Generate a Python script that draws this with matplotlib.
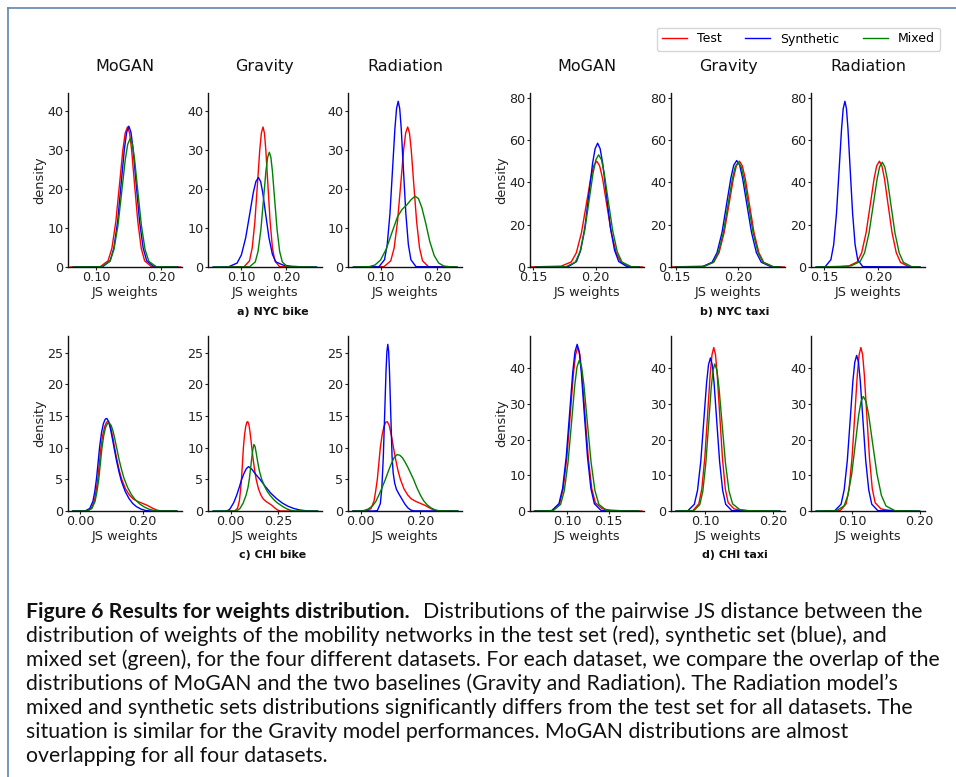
import matplotlib
matplotlib.use("Agg")
import matplotlib.pyplot as plt
from matplotlib.lines import Line2D

# NYC bike
nyc_bike_test = [(0.060, 0), (0.106, 0.08), (0.118, 1.58), (0.124, 4.87), (0.130, 11.69), (0.136, 21.83),
                 (0.1408, 30.07), (0.1444, 34.42), (0.148, 36.0), (0.1512, 34.42), (0.1543, 30.07),
                 (0.1585, 21.83), (0.1638, 11.69), (0.169, 4.87), (0.1743, 1.58), (0.1848, 0.08), (0.230, 0)]
nyc_bike_mogan_syn = [(0.065, 0), (0.1098, 0.08), (0.1213, 1.59), (0.127, 4.90), (0.1328, 11.75), (0.1385, 21.96),
                      (0.1431, 30.24), (0.1466, 34.61), (0.150, 36.2), (0.1533, 34.61), (0.1566, 30.24),
                      (0.161, 21.96), (0.1665, 11.75), (0.172, 4.90), (0.1775, 1.59), (0.1885, 0.08), (0.225, 0)]
nyc_bike_mogan_mix = [(0.064, 0), (0.1083, 0.07), (0.1208, 1.45), (0.127, 4.46), (0.1333, 10.72), (0.1395, 20.01),
                      (0.1445, 27.56), (0.1483, 31.55), (0.152, 33.0), (0.1555, 31.55), (0.1589, 27.56),
                      (0.1635, 20.01), (0.1693, 10.72), (0.175, 4.46), (0.1808, 1.45), (0.1923, 0.07), (0.224, 0)]
nyc_bike_gravity_syn = [(0.037, 0), (0.0715, 0.05), (0.0905, 1.01), (0.100, 3.11), (0.1095, 7.47), (0.119, 13.95),
                        (0.1266, 19.21), (0.1323, 21.99), (0.138, 23.0), (0.1427, 21.99), (0.1473, 19.21),
                        (0.1535, 13.95), (0.1613, 7.47), (0.169, 3.2), (0.1768, 1.3), (0.1923, 0.5),
                        (0.210, 0.2), (0.235, 0.03), (0.267, 0)]
nyc_bike_gravity_mix = [(0.040, 0), (0.1183, 0.06), (0.1308, 1.30), (0.137, 3.99), (0.1433, 9.58), (0.1495, 17.89),
                        (0.1545, 24.64), (0.1583, 28.20), (0.162, 29.5), (0.1655, 28.20), (0.1689, 24.64),
                        (0.1735, 17.89), (0.1793, 9.58), (0.185, 3.99), (0.1908, 1.30), (0.2023, 0.06), (0.265, 0)]
nyc_bike_radiation_syn = [(0.052, 0), (0.0973, 0.09), (0.107, 1.87), (0.1118, 5.76), (0.1167, 13.83),
                          (0.1215, 25.84), (0.1254, 35.58), (0.1283, 40.73), (0.1312, 42.6), (0.1339, 40.73),
                          (0.1366, 35.58), (0.1402, 25.84), (0.1447, 13.83), (0.1492, 5.76), (0.1537, 1.87),
                          (0.1627, 0.09), (0.235, 0)]
nyc_bike_radiation_mix = [(0.052, 0), (0.080, 0.1), (0.090, 0.5), (0.100, 1.8), (0.110, 4.6), (0.120, 8.8),
                          (0.130, 12.9), (0.138, 14.8), (0.146, 15.9), (0.154, 17.3), (0.161, 18.2), (0.167, 17.6),
                          (0.173, 15.3), (0.180, 11.2), (0.187, 6.6), (0.195, 2.9), (0.203, 1.0), (0.212, 0.25),
                          (0.225, 0.03), (0.235, 0)]

# NYC taxi
nyc_taxi_test = [(0.145, 0), (0.1723, 0.4), (0.1805, 2.4), (0.1846, 6.77), (0.1887, 16.24), (0.1928, 30.33),
                 (0.1961, 41.77), (0.1985, 47.80), (0.201, 50.0), (0.2033, 47.80), (0.2057, 41.77),
                 (0.2088, 30.33), (0.2127, 16.24), (0.2166, 6.77), (0.2205, 2.20), (0.2283, 0.11), (0.238, 0)]
nyc_taxi_mogan_syn = [(0.152, 0), (0.1779, 0.13), (0.1847, 2.57), (0.1881, 7.92), (0.1915, 18.99), (0.1949, 35.48),
                      (0.1976, 48.87), (0.1997, 55.93), (0.2017, 58.5), (0.2037, 55.93), (0.2058, 48.87),
                      (0.2085, 35.48), (0.2119, 18.99), (0.2153, 7.92), (0.2187, 2.57), (0.2255, 0.13), (0.235, 0)]
nyc_taxi_mogan_mix = [(0.152, 0), (0.1763, 0.12), (0.1838, 2.33), (0.1875, 7.17), (0.1913, 17.21), (0.195, 32.14),
                      (0.198, 44.27), (0.2003, 50.67), (0.2025, 53.0), (0.2048, 50.67), (0.207, 44.27),
                      (0.210, 32.14), (0.2138, 17.21), (0.2175, 7.17), (0.2213, 2.33), (0.2288, 0.12), (0.235, 0)]
nyc_taxi_gravity_syn = [(0.150, 0), (0.1712, 0.11), (0.179, 2.21), (0.183, 6.81), (0.187, 16.33), (0.1909, 30.51),
                        (0.1941, 42.02), (0.1964, 48.09), (0.1988, 50.3), (0.2012, 48.09), (0.2035, 42.02),
                        (0.2067, 30.51), (0.2107, 16.33), (0.2146, 6.81), (0.2186, 2.21), (0.2265, 0.11),
                        (0.2334, 0)]
nyc_taxi_gravity_mix = [(0.150, 0), (0.172, 0.11), (0.180, 2.17), (0.184, 6.70), (0.188, 16.07), (0.192, 30.02),
                        (0.1952, 41.35), (0.1976, 47.32), (0.200, 49.5), (0.2024, 47.32), (0.2048, 41.35),
                        (0.208, 30.02), (0.212, 16.07), (0.216, 6.70), (0.220, 2.17), (0.228, 0.11), (0.2334, 0)]
nyc_taxi_radiation_syn = [(0.1425, 0), (0.1509, 0.17), (0.1561, 3.44), (0.1587, 10.59), (0.1613, 25.42),
                          (0.1639, 47.49), (0.166, 65.40), (0.1675, 74.85), (0.1691, 78.3), (0.1705, 74.85),
                          (0.1719, 65.40), (0.1738, 47.49), (0.1762, 25.42), (0.1785, 10.59), (0.1809, 3.44),
                          (0.1856, 0.17), (0.2385, 0)]
nyc_taxi_radiation_mix = [(0.1425, 0), (0.165, 0.15), (0.175, 0.6), (0.1832, 2.6), (0.1873, 6.70), (0.1914, 16.07),
                          (0.1955, 30.02), (0.1988, 41.35), (0.2012, 47.32), (0.2037, 49.5), (0.206, 47.32),
                          (0.2084, 41.35), (0.2115, 30.02), (0.2154, 16.07), (0.2193, 6.70), (0.2232, 2.17),
                          (0.231, 0.11), (0.2385, 0)]

# CHI bike
chi_bike_test = [(-0.025, 0), (0.020, 0), (0.035, 0.4), (0.045, 1.6), (0.050, 3.0), (0.056, 5.0), (0.061, 7.5),
                 (0.066, 10.0), (0.072, 12.0), (0.078, 13.3), (0.084, 14.0), (0.089, 14.1), (0.095, 13.6),
                 (0.100, 12.6), (0.105, 11.4), (0.110, 10.0), (0.117, 8.2), (0.125, 6.4), (0.133, 5.0),
                 (0.145, 3.5), (0.158, 2.5), (0.170, 1.9), (0.185, 1.5), (0.200, 1.2), (0.215, 0.9),
                 (0.230, 0.5), (0.245, 0.15), (0.260, 0), (0.310, 0)]
chi_bike_mogan_syn = [(-0.025, 0), (0.015, 0), (0.030, 0.4), (0.040, 1.5), (0.046, 3.0), (0.052, 5.2), (0.057, 7.7),
                      (0.062, 10.2), (0.068, 12.4), (0.074, 13.8), (0.080, 14.5), (0.085, 14.6), (0.091, 14.1),
                      (0.097, 12.9), (0.103, 11.4), (0.109, 9.8), (0.116, 8.0), (0.124, 6.2), (0.132, 4.7),
                      (0.144, 3.1), (0.156, 2.0), (0.168, 1.2), (0.180, 0.7), (0.195, 0.3), (0.210, 0.08),
                      (0.225, 0), (0.310, 0)]
chi_bike_mogan_mix = [(-0.025, 0), (0.022, 0), (0.037, 0.4), (0.047, 1.5), (0.053, 3.0), (0.059, 5.0), (0.064, 7.4),
                      (0.069, 9.8), (0.075, 11.9), (0.081, 13.2), (0.087, 13.8), (0.0927, 13.9), (0.099, 13.5),
                      (0.105, 12.6), (0.111, 11.3), (0.117, 9.9), (0.124, 8.2), (0.132, 6.6), (0.140, 5.2),
                      (0.152, 3.7), (0.164, 2.6), (0.176, 1.8), (0.190, 1.15), (0.205, 0.65), (0.220, 0.3),
                      (0.235, 0.1), (0.250, 0.02), (0.310, 0)]
chi_bike_gravity_syn = [(-0.092, 0), (-0.020, 0), (-0.005, 0.3), (0.015, 1.3), (0.031, 2.5), (0.045, 3.8),
                        (0.057, 5.0), (0.070, 6.0), (0.082, 6.7), (0.093, 7.0), (0.110, 6.6), (0.130, 5.8),
                        (0.153, 5.0), (0.180, 3.9), (0.210, 2.8), (0.240, 1.95), (0.270, 1.25), (0.300, 0.75),
                        (0.330, 0.4), (0.360, 0.17), (0.390, 0.05), (0.420, 0.01), (0.455, 0)]
chi_bike_gravity_mix = [(-0.092, 0), (0.030, 0), (0.048, 0.4), (0.064, 1.2), (0.080, 2.5), (0.090, 3.7),
                        (0.097, 5.0), (0.104, 6.8), (0.110, 8.4), (0.115, 9.6), (0.121, 10.5), (0.127, 10.2),
                        (0.133, 9.2), (0.140, 7.9), (0.150, 6.3), (0.162, 5.0), (0.177, 3.9), (0.191, 3.1),
                        (0.205, 2.5), (0.225, 1.8), (0.243, 1.3), (0.258, 1.0), (0.275, 0.65), (0.295, 0.32),
                        (0.315, 0.1), (0.335, 0.02), (0.455, 0)]
chi_bike_radiation_syn = [(-0.025, 0), (0.045, 0), (0.056, 0.06), (0.066, 1.15), (0.071, 3.56), (0.076, 8.54),
                          (0.081, 15.95), (0.085, 21.97), (0.088, 25.14), (0.091, 26.3), (0.0939, 25.14),
                          (0.0967, 21.97), (0.1005, 15.95), (0.1053, 8.54), (0.109, 6.0), (0.114, 4.4),
                          (0.120, 3.4), (0.128, 2.7), (0.138, 1.9), (0.148, 1.1), (0.158, 0.5), (0.168, 0.15),
                          (0.178, 0.02), (0.325, 0)]
chi_bike_radiation_mix = [(-0.025, 0), (0.006, 0), (0.025, 0.3), (0.040, 0.8), (0.051, 1.5), (0.061, 2.5),
                          (0.072, 3.7), (0.083, 5.0), (0.093, 6.3), (0.103, 7.5), (0.112, 8.4), (0.122, 8.9),
                          (0.131, 8.8), (0.140, 8.4), (0.149, 7.7), (0.158, 6.9), (0.167, 6.0), (0.177, 5.0),
                          (0.188, 3.7), (0.200, 2.5), (0.211, 1.6), (0.222, 1.0), (0.235, 0.5), (0.248, 0.2),
                          (0.263, 0.03), (0.325, 0)]

# CHI taxi
chi_taxi_test = [(0.060, 0), (0.0817, 0.10), (0.0905, 2.01), (0.0949, 6.20), (0.0993, 14.87), (0.1037, 27.78),
                 (0.1072, 38.26), (0.1099, 43.78), (0.1125, 45.8), (0.1151, 43.78), (0.1176, 38.26),
                 (0.121, 27.78), (0.1253, 14.87), (0.1295, 6.20), (0.1338, 2.3), (0.1423, 0.6),
                 (0.152, 0.25), (0.167, 0.05), (0.190, 0)]
chi_taxi_mogan_syn = [(0.061, 0), (0.081, 0.10), (0.0898, 2.05), (0.0942, 6.32), (0.0986, 15.16), (0.103, 28.32),
                      (0.1065, 39.01), (0.1092, 44.65), (0.1118, 46.7), (0.1143, 44.65), (0.1168, 39.01),
                      (0.1201, 28.32), (0.1243, 15.16), (0.1284, 6.32), (0.1326, 2.05), (0.1409, 0.10), (0.186, 0)]
chi_taxi_mogan_mix = [(0.061, 0), (0.0828, 0.09), (0.0918, 1.85), (0.0963, 5.71), (0.1008, 13.70), (0.1053, 25.59),
                      (0.1089, 35.25), (0.1116, 40.34), (0.1143, 42.2), (0.1172, 40.34), (0.120, 35.25),
                      (0.1238, 25.59), (0.1286, 13.70), (0.1333, 5.71), (0.1381, 1.85), (0.1476, 0.09), (0.186, 0)]
chi_taxi_gravity_syn = [(0.057, 0), (0.0744, 0.09), (0.0839, 1.88), (0.0886, 5.80), (0.0934, 13.93),
                        (0.0981, 26.02), (0.1019, 35.83), (0.1048, 41.01), (0.1076, 42.9), (0.1103, 41.01),
                        (0.113, 35.83), (0.1166, 26.02), (0.1211, 13.93), (0.1256, 5.80), (0.1301, 1.88),
                        (0.1391, 0.09), (0.210, 0)]
chi_taxi_gravity_mix = [(0.057, 0), (0.0832, 0.09), (0.092, 1.81), (0.0964, 5.57), (0.1008, 13.38), (0.1052, 24.99),
                        (0.1087, 34.41), (0.1114, 39.39), (0.114, 41.2), (0.1172, 39.39), (0.1203, 34.41),
                        (0.1245, 24.99), (0.1298, 13.38), (0.135, 5.57), (0.1403, 2.0), (0.1508, 0.4),
                        (0.162, 0.1), (0.210, 0)]
chi_taxi_radiation_syn = [(0.046, 0), (0.0737, 0.10), (0.083, 1.91), (0.0876, 5.90), (0.0923, 14.16),
                          (0.0969, 26.44), (0.1006, 36.42), (0.1034, 41.68), (0.1062, 43.6), (0.1089, 41.68),
                          (0.1116, 36.42), (0.1152, 26.44), (0.1197, 14.16), (0.1242, 5.90), (0.1287, 1.91),
                          (0.1377, 0.10), (0.200, 0)]
chi_taxi_radiation_mix = [(0.046, 0), (0.0759, 0.07), (0.0874, 1.41), (0.0931, 4.34), (0.0989, 10.42),
                          (0.1046, 19.47), (0.1092, 26.81), (0.1127, 30.69), (0.1161, 32.1), (0.1202, 30.69),
                          (0.1242, 26.81), (0.1296, 19.47), (0.1364, 10.42), (0.1431, 4.34), (0.1499, 1.41),
                          (0.1634, 0.07), (0.200, 0)]

models = ["MoGAN", "Gravity", "Radiation"]
dataset_labels = ["a) NYC bike", "b) NYC taxi", "c) CHI bike", "d) CHI taxi"]
test_curves = [nyc_bike_test, nyc_taxi_test, chi_bike_test, chi_taxi_test]
syn_curves = [
    [nyc_bike_mogan_syn, nyc_bike_gravity_syn, nyc_bike_radiation_syn],
    [nyc_taxi_mogan_syn, nyc_taxi_gravity_syn, nyc_taxi_radiation_syn],
    [chi_bike_mogan_syn, chi_bike_gravity_syn, chi_bike_radiation_syn],
    [chi_taxi_mogan_syn, chi_taxi_gravity_syn, chi_taxi_radiation_syn],
]
mix_curves = [
    [nyc_bike_mogan_mix, nyc_bike_gravity_mix, nyc_bike_radiation_mix],
    [nyc_taxi_mogan_mix, nyc_taxi_gravity_mix, nyc_taxi_radiation_mix],
    [chi_bike_mogan_mix, chi_bike_gravity_mix, chi_bike_radiation_mix],
    [chi_taxi_mogan_mix, chi_taxi_gravity_mix, chi_taxi_radiation_mix],
]
x_ticks = [
    [[0.10, 0.20], [0.10, 0.20], [0.10, 0.20]],
    [[0.15, 0.20], [0.15, 0.20], [0.15, 0.20]],
    [[0.00, 0.20], [0.00, 0.25], [0.00, 0.20]],
    [[0.10, 0.15], [0.10, 0.20], [0.10, 0.20]],
]
x_limits = [
    [(0.0564, 0.2318), (0.0259, 0.279), (0.0424, 0.2441)],
    [(0.1473, 0.239), (0.146, 0.2376), (0.1377, 0.2432)],
    [(-0.040, 0.327), (-0.1195, 0.478), (-0.042, 0.339)],
    [(0.0548, 0.1926), (0.0495, 0.2175), (0.0382, 0.208)],
]
y_ticks = [[0, 10, 20, 30, 40], [0, 20, 40, 60, 80], [0, 5, 10, 15, 20, 25], [0, 10, 20, 30, 40]]

caption_head = "Figure 6 Results for weights distribution."
caption_lines = [
    "Distributions of the pairwise JS distance between the",
    "distribution of weights of the mobility networks in the test set (red), synthetic set (blue), and",
    "mixed set (green), for the four different datasets. For each dataset, we compare the overlap of the",
    "distributions of MoGAN and the two baselines (Gravity and Radiation). The Radiation model\u2019s",
    "mixed and synthetic sets distributions significantly differs from the test set for all datasets. The",
    "situation is similar for the Gravity model performances. MoGAN distributions are almost",
    "overlapping for all four datasets.",
]

# layout in pixels
W, H = 956, 777
col_left = [[68, 208, 348], [530, 671, 811]]
row_span = [(93, 267), (336, 511)]
ax_w = 114
label_pos = [(273, 312), (735, 312), (273, 555), (735, 555)]

fig = plt.figure(figsize=(W / 100, H / 100), dpi=100)
fig.patch.set_facecolor("white")

series = [("Test", "red"), ("Synthetic", "blue"), ("Mixed", "green")]
legend_handles = None

for d in range(4):
    row, grp = divmod(d, 2)
    top, bot = row_span[row]
    curves_all = [test_curves[d]] + syn_curves[d] + mix_curves[d]
    ymax = 1.05 * max(y for c in curves_all for _, y in c)
    for m in range(3):
        x0 = col_left[grp][m]
        ax = fig.add_axes([x0 / W, 1 - bot / H, ax_w / W, (bot - top) / H])
        for pts, (lab, col) in zip([test_curves[d], syn_curves[d][m], mix_curves[d][m]], series):
            xs, ys = zip(*pts)
            ax.plot(xs, ys, color=col, lw=1.0, label=lab)
        ax.set_xlim(*x_limits[d][m])
        ax.set_ylim(0, ymax)
        ax.set_xticks(x_ticks[d][m])
        ax.set_xticklabels([f"{t:.2f}" for t in x_ticks[d][m]])
        ax.set_yticks(y_ticks[d])
        for s in ("top", "right"):
            ax.spines[s].set_visible(False)
        for s in ("left", "bottom"):
            ax.spines[s].set_linewidth(1.0)
            ax.spines[s].set_color("#111111")
        ax.tick_params(length=2, width=0.8, pad=1.2, labelsize=9.2, colors="#222222")
        ax.set_xlabel("JS weights", fontsize=9.3, labelpad=1, color="#222222")
        if m == 0:
            ax.set_ylabel("density", fontsize=9.3, labelpad=1, color="#222222")
        if row == 0:
            ax.set_title(models[m], fontsize=11.5, pad=15.8, color="#111111")
        if legend_handles is None:
            legend_handles = ax.get_legend_handles_labels()
    lx, ly = label_pos[d]
    fig.text(lx / W, 1 - ly / H, dataset_labels[d], ha="center", va="center",
             fontsize=8, fontweight="bold", color="#111111")

fig.legend(*legend_handles, loc="upper right", bbox_to_anchor=(940 / W, 1 - 27.5 / H),
           ncol=3, fontsize=9, borderaxespad=0, columnspacing=1.9)

# frame of the figure box
frame_col = "#5f84ad"
fig.add_artist(Line2D([7.5 / W, 1], [1 - 8 / H, 1 - 8 / H], transform=fig.transFigure, color=frame_col, lw=1.2))
fig.add_artist(Line2D([7.5 / W, 7.5 / W], [1 - 8 / H, 0], transform=fig.transFigure, color=frame_col, lw=1.2))

# caption, sized so that the widest line runs from x=26 to about x=940
cap_family = ["Lato", "DejaVu Sans"]
x_start = 26
target_w = 912
baselines = [617.7 + 24 * i for i in range(7)]
renderer = fig.canvas.get_renderer()
cap_size = 12.0
probe = fig.text(0, 0, caption_lines[2], fontsize=cap_size, family=cap_family)
for _ in range(3):
    cap_size *= target_w / probe.get_window_extent(renderer).width
    probe.set_fontsize(cap_size)
probe.remove()

head = fig.text(x_start / W, 1 - baselines[0] / H, caption_head, fontsize=cap_size, family=cap_family,
                fontweight="bold", va="baseline", color="#111111")
head_w = head.get_window_extent(renderer).width
fig.text((x_start + head_w + 0.9 * cap_size) / W, 1 - baselines[0] / H, caption_lines[0], fontsize=cap_size,
         family=cap_family, va="baseline", color="#111111")
for i in range(1, 7):
    fig.text(x_start / W, 1 - baselines[i] / H, caption_lines[i], fontsize=cap_size, family=cap_family,
             va="baseline", color="#111111")

fig.savefig("out.png", dpi=100, facecolor="white")
